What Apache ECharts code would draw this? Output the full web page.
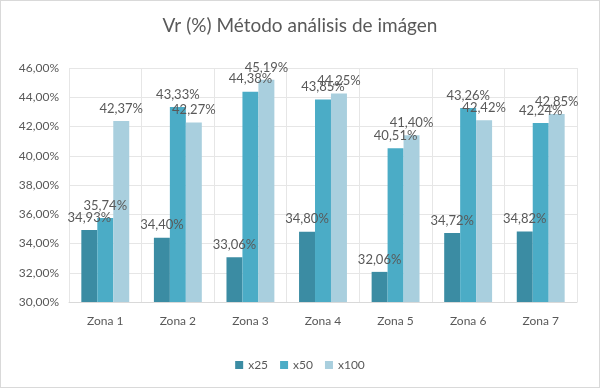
<!DOCTYPE html>
<html><head><meta charset="utf-8">
<script src="https://cdn.jsdelivr.net/npm/echarts@6/dist/echarts.min.js"></script>
<style>html,body{margin:0;padding:0;background:#fff;}#c{width:600px;height:388px;box-sizing:border-box;border:1px solid #d9d9d9;}</style>
</head><body><div id="c"></div>
<script>
const categories = ['Zona 1','Zona 2','Zona 3','Zona 4','Zona 5','Zona 6','Zona 7'];
const x25 = [34.93, 34.40, 33.06, 34.80, 32.06, 34.72, 34.82];
const x50 = [35.74, 43.33, 44.38, 43.85, 40.51, 43.26, 42.24];
const x100 = [42.37, 42.27, 45.19, 44.25, 41.40, 42.42, 42.85];
const seriesNames = ['x25','x50','x100'];
const colors = ['#3B8CA3','#4BACC6','#A9CFDE'];
const fmt = v => v.toFixed(2).replace('.', ',') + '%';
const font = 'Lato, "Open Sans", sans-serif';
const chart = echarts.init(document.getElementById('c'));
const mk = (name, data, i) => ({
  name, type: 'bar', data, barGap: '0%', barCategoryGap: '34%',
  itemStyle: { color: colors[i] },
  label: { show: true, position: 'top', distance: 6, color: '#595959', fontSize: 13, fontFamily: font,
    formatter: p => fmt(p.value) },
  labelLayout: { hideOverlap: false }
});
chart.setOption({
  animation: false,
  title: { text: 'Vr (%) Método análisis de imágen', left: 'center', top: 10,
    textStyle: { color: '#595959', fontSize: 19, fontWeight: 'normal', fontFamily: font } },
  legend: { bottom: 11, left: 'center', itemWidth: 8, itemHeight: 8, itemGap: 12,
    icon: 'rect', textStyle: { color: '#595959', fontSize: 12, fontFamily: font },
    data: seriesNames },
  grid: { left: 68, right: 22, top: 67, bottom: 85, containLabel: false },
  xAxis: { type: 'category', data: categories,
    axisLine: { lineStyle: { color: '#d9d9d9' } }, axisTick: { show: false },
    splitLine: { show: true, lineStyle: { color: '#e6e6e6' } },
    axisLabel: { color: '#595959', fontSize: 12, fontFamily: font, margin: 13 } },
  yAxis: { type: 'value', min: 30, max: 46, interval: 2,
    axisLine: { show: false }, axisTick: { show: false },
    splitLine: { lineStyle: { color: '#e6e6e6' } },
    axisLabel: { color: '#595959', fontSize: 12, fontFamily: font, margin: 10, formatter: v => fmt(v) } },
  series: [mk('x25', x25, 0), mk('x50', x50, 1), mk('x100', x100, 2)]
});
</script></body></html>
